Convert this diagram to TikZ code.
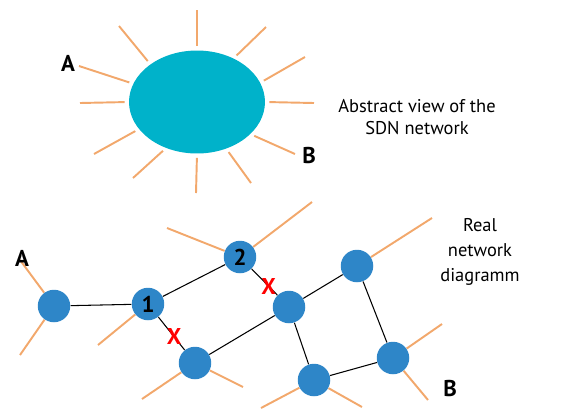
\documentclass[tikz,border=0pt]{standalone}
\usepackage{fontspec}
\setmainfont{PT Sans}
\usetikzlibrary{shapes.geometric, positioning, calc, backgrounds}
\definecolor{sdncyan}{RGB}{0,178,202}
\definecolor{switchblue}{RGB}{46,134,200}
\definecolor{rayorange}{RGB}{242,168,108}
\tikzset{
  sdncloud/.style={ellipse, fill=sdncyan, minimum width=2.72cm, minimum height=2.06cm, inner sep=0pt},
  switch/.style={circle, fill=switchblue, minimum size=0.65cm, inner sep=0pt, font=\fontsize{13}{15}\selectfont\bfseries},
  link/.style={black, line width=0.6pt},
  ray/.style={rayorange, line width=1.1pt},
  endlbl/.style={font=\fontsize{13}{15}\selectfont\bfseries, inner sep=1pt},
  caption/.style={align=center, font=\fontsize{10.5}{12.5}\selectfont},
  cut/.style={text=red, font=\fontsize{13}{13}\selectfont\bfseries, inner sep=0pt}
}

\begin{document}
\begin{tikzpicture}[x=0.02cm, y=-0.02cm]
    \useasboundingbox (0,0) rectangle (568,410);

    % 1. Vista abstracta de la red SDN (arriba)
    \node[sdncloud] (cloud) at (197,102) {};

    % Rayos naranjas alrededor de la nube
    \foreach \ang/\px/\py in {
        90/197/10, 141/119/26, 164/79/66, 180/80/103,
        205/94/154, 236/133/178, 270/196/193, 302/251/183,
        329/295/154, 0/314/103, 17/305/57, 50/266/27
    } {
        \coordinate (r\ang) at (\px,\py);
        \draw[ray, shorten <=0.8mm] (cloud.\ang) -- (r\ang);
    }

    \node[endlbl] (topA) at (68,63) {A};
    \node[endlbl] (topB) at (309,155) {B};
    \node[caption] (abstract) at (417,117) {Abstract view of the\\SDN network};

    % 2. Red real (abajo)
    \node[switch] (n0) at (54,306) {};
    \node[switch] (n1) at (148,304) {1};
    \node[switch] (n2) at (240,257) {2};
    \node[switch] (n3) at (195,363) {};
    \node[switch] (n4) at (289,307) {};
    \node[switch] (n5) at (357,266) {};
    \node[switch] (n6) at (393,358) {};
    \node[switch] (n7) at (314,380) {};

    % Enlaces entre switches
    \draw[link] (n0) -- (n1);
    \draw[link] (n1) -- (n2);
    \draw[link] (n1) -- node[cut, pos=0.6] (cut1) {X} (n3);
    \draw[link] (n2) -- node[cut, pos=0.66] (cut2) {X} (n4);
    \draw[link] (n3) -- (n4);
    \draw[link] (n4) -- (n5);
    \draw[link] (n4) -- (n7);
    \draw[link] (n5) -- (n6);
    \draw[link] (n7) -- (n6);

    % Rayos de los switches (detras de los nodos)
    \begin{scope}[on background layer]
    \foreach \sw/\px/\py [count=\k] in {
        n0/20/260, n0/20/355, n1/98/345, n2/167/228, n2/312/202,
        n3/142/399, n3/243/387, n5/432/218, n6/442/324, n6/428/400,
        n7/261/408, n7/362/407
    } {
        \coordinate (s\k) at (\px,\py);
        \draw[ray] (\sw) -- (s\k);
    }
    \end{scope}

    \node[endlbl] (botA) at (22,258) {A};
    \node[endlbl] (botB) at (450,388) {B};
    \node[caption, font=\fontsize{10.5}{14}\selectfont] (real) at (480,252) {Real\\network\\diagramm};

\end{tikzpicture}
\end{document}
